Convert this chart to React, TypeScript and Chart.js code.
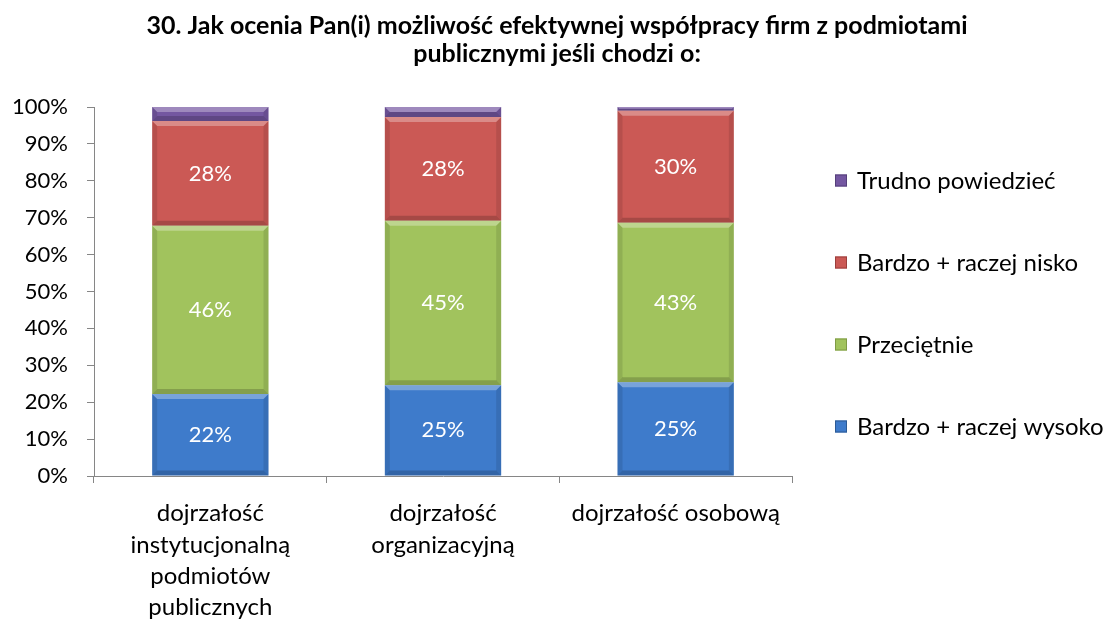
import React, { useEffect, useRef } from "react";
import { Chart, registerables } from "chart.js";

Chart.register(...registerables);

const titleLines = [
  "30. Jak ocenia Pan(i) możliwość efektywnej współpracy firm z podmiotami",
  "publicznymi jeśli chodzi o:",
];
const categories: (string | string[])[] = [
  ["dojrzałość", "instytucjonalną", "podmiotów", "publicznych"],
  ["dojrzałość", "organizacyjną"],
  "dojrzałość osobową",
];
const seriesNames = [
  "Bardzo + raczej wysoko",
  "Przeciętnie",
  "Bardzo + raczej nisko",
  "Trudno powiedzieć",
];
const wysoko = [22.2, 24.6, 25.4];
const przecietnie = [45.6, 44.6, 43.2];
const nisko = [28.4, 28.1, 30.4];
const trudno = [3.8, 2.7, 1.0];
const seriesColors = ["#3e7bcb", "#a1c35d", "#cb5955", "#7457a1"];
const seriesBorders = ["#2c5a94", "#7f9a45", "#9a3f3c", "#55407a"];
const yTicks = [0, 10, 20, 30, 40, 50, 60, 70, 80, 90, 100];

const FONT = "Lato, 'Open Sans', sans-serif";

const titlePlugin = {
  id: "customTitle",
  afterDraw(chart: any) {
    const ctx = chart.ctx;
    ctx.save();
    ctx.font = `bold 25px ${FONT}`;
    ctx.fillStyle = "#000000";
    ctx.textAlign = "center";
    ctx.textBaseline = "alphabetic";
    titleLines.forEach((t, i) => {
      ctx.fillText(t, chart.width / 2 + 2, 34 + i * 28);
    });
    ctx.restore();
  },
};

const barPlugin = {
  id: "segLabels",
  afterDatasetsDraw(chart: any) {
    const ctx = chart.ctx;
    ctx.save();
    chart.data.datasets.forEach((ds: any, di: number) => {
      const meta = chart.getDatasetMeta(di);
      meta.data.forEach((bar: any) => {
        const left = bar.x - bar.width / 2;
        const top = Math.min(bar.y, bar.base);
        const h = Math.abs(bar.base - bar.y);
        const w = bar.width;
        const b = Math.min(5, h / 2);
        ctx.fillStyle = "rgba(255,255,255,0.30)";
        ctx.beginPath();
        ctx.moveTo(left, top);
        ctx.lineTo(left + w, top);
        ctx.lineTo(left + w - b, top + b);
        ctx.lineTo(left + b, top + b);
        ctx.closePath();
        ctx.fill();
        ctx.fillStyle = "rgba(0,0,0,0.10)";
        ctx.beginPath();
        ctx.moveTo(left, top);
        ctx.lineTo(left + b, top + b);
        ctx.lineTo(left + b, top + h - b);
        ctx.lineTo(left, top + h);
        ctx.closePath();
        ctx.fill();
        ctx.beginPath();
        ctx.moveTo(left + w, top);
        ctx.lineTo(left + w - b, top + b);
        ctx.lineTo(left + w - b, top + h - b);
        ctx.lineTo(left + w, top + h);
        ctx.closePath();
        ctx.fill();
        ctx.fillStyle = "rgba(0,0,0,0.18)";
        ctx.beginPath();
        ctx.moveTo(left, top + h);
        ctx.lineTo(left + b, top + h - b);
        ctx.lineTo(left + w - b, top + h - b);
        ctx.lineTo(left + w, top + h);
        ctx.closePath();
        ctx.fill();
      });
    });
    ctx.fillStyle = "#ffffff";
    ctx.font = `22px ${FONT}`;
    ctx.textAlign = "center";
    ctx.textBaseline = "middle";
    chart.data.datasets.forEach((ds: any, di: number) => {
      if (di > 2) return;
      const meta = chart.getDatasetMeta(di);
      meta.data.forEach((bar: any, i: number) => {
        const v = ds.data[i];
        const y = (bar.y + bar.base) / 2;
        ctx.fillText(Math.round(v) + "%", bar.x, y);
      });
    });
    ctx.restore();
  },
};

const legendPlugin = {
  id: "customLegend",
  afterDraw(chart: any) {
    const ctx = chart.ctx;
    const area = chart.chartArea;
    ctx.save();
    ctx.font = `24px ${FONT}`;
    ctx.textBaseline = "middle";
    ctx.textAlign = "left";
    const mid = (area.top + area.bottom) / 2 + 12;
    const step = 82;
    const order = [3, 2, 1, 0];
    order.forEach((si, k) => {
      const cy = mid + (k - 1.5) * step;
      const bx = area.right + 43;
      ctx.fillStyle = seriesColors[si];
      ctx.fillRect(bx, cy - 6, 12, 12);
      ctx.strokeStyle = seriesBorders[si];
      ctx.lineWidth = 1;
      ctx.strokeRect(bx + 0.5, cy - 5.5, 11, 11);
      ctx.fillStyle = "#000000";
      ctx.fillText(seriesNames[si], bx + 22, cy + 1);
    });
    ctx.restore();
  },
};

export default function App() {
  const ref = useRef<HTMLCanvasElement | null>(null);

  useEffect(() => {
    document.body.style.margin = "0";
    const values = [wysoko, przecietnie, nisko, trudno];
    const chart = new Chart(ref.current as HTMLCanvasElement, {
      type: "bar",
      data: {
        labels: categories as any,
        datasets: values.map((d, i) => ({
          label: seriesNames[i],
          data: d,
          backgroundColor: seriesColors[i],
          borderColor: seriesBorders[i],
          borderWidth: 0,
          categoryPercentage: 0.5,
          barPercentage: 1,
        })),
      },
      options: {
        animation: false,
        responsive: false,
        layout: { padding: { right: 318, left: 0, bottom: 0, top: 107 } },
        plugins: {
          legend: { display: false },
          tooltip: { enabled: false },
          title: { display: false },
        },
        scales: {
          x: {
            stacked: true,
            grid: {
              display: true,
              drawOnChartArea: false,
              drawTicks: true,
              tickLength: 7,
              color: "#868686",
              offset: true,
            },
            border: { display: true, color: "#868686", width: 1 },
            ticks: {
              color: "#000000",
              font: { family: FONT, size: 24, lineHeight: 1.3 },
              maxRotation: 0,
              autoSkip: false,
              padding: 15,
            },
            afterFit(scale: any) {
              scale.height = 150;
            },
          },
          y: {
            stacked: true,
            min: 0,
            max: 100,
            grid: {
              display: true,
              drawOnChartArea: false,
              drawTicks: true,
              tickLength: 7,
              color: "#868686",
            },
            border: { display: true, color: "#868686", width: 1 },
            ticks: {
              stepSize: 10,
              color: "#000000",
              font: { family: FONT, size: 22 },
              padding: 19,
              callback: (v: any) => (yTicks.includes(Number(v)) ? v + "%" : ""),
            },
            afterFit(scale: any) {
              scale.width = 94;
            },
          },
        },
      },
      plugins: [barPlugin, legendPlugin, titlePlugin],
    });
    return () => chart.destroy();
  }, []);

  return (
    <div style={{ position: "absolute", left: 0, top: 0, width: 1110, height: 626, background: "#fff" }}>
      <canvas ref={ref} width={1110} height={626} style={{ width: 1110, height: 626 }} />
    </div>
  );
}
